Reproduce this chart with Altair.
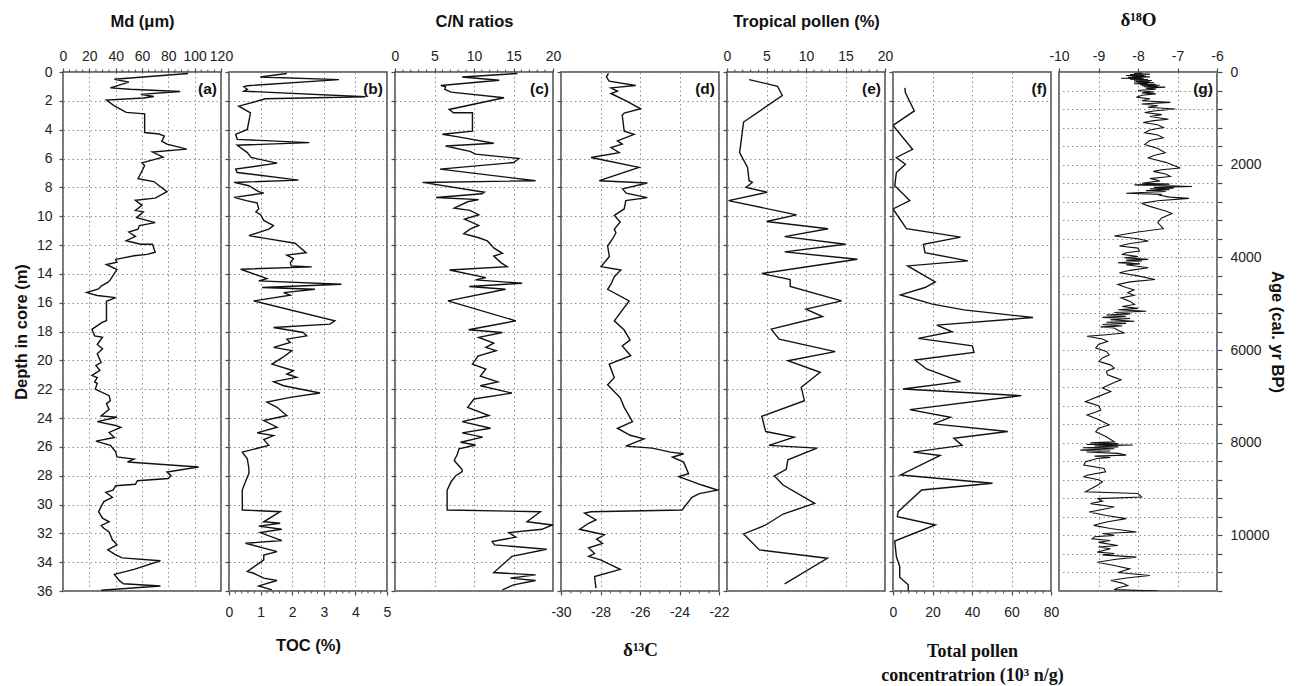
import altair as alt
import pandas as pd

# ---------------- data (depth in m, value) ----------------
md_pts = [(0.1, 95), (0.5, 39), (0.7, 50), (1.1, 36), (1.2, 51), (1.35, 89), (1.55, 59), (1.7, 69),
          (1.8, 61), (1.95, 33), (2.35, 39), (2.8, 48), (2.9, 62), (4.2, 62), (4.3, 73), (4.45, 77),
          (4.8, 75), (5.0, 79), (5.35, 94), (5.55, 68), (5.9, 76), (6.3, 60), (6.5, 62), (7.4, 57),
          (7.6, 69), (8.3, 79), (8.75, 70), (8.9, 55), (9.25, 60), (9.6, 55), (9.7, 61), (10.1, 56),
          (10.45, 70), (10.65, 58), (10.9, 57), (11.1, 50), (11.4, 55), (11.7, 48), (11.95, 59),
          (11.95, 68), (12.5, 70), (12.65, 64), (12.75, 54), (13.0, 40), (13.2, 41), (13.35, 33),
          (13.7, 41), (14.4, 36), (14.6, 34), (14.85, 29), (15.05, 27), (15.3, 18), (15.5, 26),
          (15.65, 40), (15.9, 33), (17.25, 33), (17.35, 30), (17.85, 22), (18.3, 24), (18.4, 30),
          (18.9, 26), (19.2, 30), (19.55, 26), (20.15, 29), (20.35, 25), (20.7, 28), (21.05, 22),
          (21.2, 26), (21.5, 24), (21.6, 26), (22.0, 24.5), (22.45, 35), (22.8, 36), (23.0, 33),
          (23.4, 35), (23.85, 29), (23.95, 41), (24.25, 26), (24.5, 39), (24.65, 44), (25.0, 35),
          (25.35, 39), (25.6, 25), (25.9, 36), (26.35, 40), (26.7, 41), (26.85, 54), (27.05, 49),
          (27.4, 103), (27.75, 79), (28.0, 82), (28.2, 80), (28.35, 56.5), (28.6, 55), (28.7, 40),
          (29.0, 38), (29.15, 32.5), (29.5, 37.5), (29.8, 31), (30.5, 27), (30.95, 30), (31.2, 35),
          (31.45, 29), (31.65, 31), (31.9, 35), (32.45, 37.5), (32.8, 41), (33.15, 34), (33.5, 40),
          (33.7, 45), (33.9, 74), (34.5, 54), (34.85, 39), (35.3, 43), (35.5, 46), (35.65, 74),
          (35.95, 29)]

toc_pts = [(0.1, 1.83), (0.35, 0.99), (0.53, 3.48), (0.95, 0.58), (1.03, 0.47), (1.2, 0.58),
           (1.33, 0.47), (1.72, 4.32), (1.86, 1.15), (2.37, 0.31), (2.83, 0.68), (3.98, 0.58),
           (4.32, 0.21), (4.67, 0.26), (4.9, 2.54), (5.08, 0.26), (5.59, 0.58), (5.93, 0.7),
           (6.32, 1.52), (6.74, 0.21), (6.97, 0.26), (7.5, 2.2), (7.66, 0.16), (7.89, 0.63),
           (8.3, 0.94), (8.4, 1.1), (8.7, 0.16), (8.92, 0.55), (9.08, 0.89), (9.5, 0.94),
           (9.7, 0.85), (9.9, 1.0), (10.3, 1.1), (10.65, 1.41), (10.9, 1.26), (11.35, 0.63),
           (11.56, 1.2), (11.88, 2.09), (12.53, 2.44), (12.7, 1.83), (12.95, 2.04), (13.22, 1.94),
           (13.45, 1.97), (13.52, 2.62), (13.68, 0.37), (14.33, 1.2), (14.49, 0.94), (14.72, 3.56),
           (14.95, 1.05), (15.07, 2.72), (15.3, 1.73), (15.48, 1.94), (15.88, 0.78), (17.26, 3.35),
           (17.49, 3.19), (17.72, 1.41), (18.07, 2.35), (18.3, 2.46), (18.53, 1.83), (18.76, 1.94),
           (19.1, 1.41), (19.33, 1.99), (19.8, 1.7), (20.26, 1.36), (20.72, 2.04), (20.95, 1.83),
           (21.18, 2.14), (21.48, 1.41), (21.76, 1.73), (22.27, 2.88), (22.57, 1.94), (22.9, 1.2),
           (23.26, 1.52), (23.83, 1.83), (24.18, 1.1), (24.64, 1.52), (25.03, 0.89), (25.22, 1.41),
           (25.5, 1.1), (25.9, 1.26), (26.1, 0.9), (26.37, 0.42), (26.83, 0.58), (27.5, 0.63),
           (27.84, 0.63), (28.42, 0.52), (29.0, 0.42), (30.38, 0.42), (30.5, 1.62), (31.2, 1.1),
           (31.3, 1.62), (31.5, 0.94), (31.72, 1.67), (31.95, 0.99), (32.5, 1.67), (32.69, 0.52),
           (33.27, 1.52), (33.5, 1.1), (33.84, 1.1), (34.65, 0.58), (34.77, 0.78), (35.11, 1.1),
           (35.27, 1.52), (35.65, 0.94), (35.92, 1.36)]

cn_pts = [(0.1, 15.5), (0.35, 8.5), (0.57, 13.2), (0.94, 5.8), (1.03, 6.4), (1.2, 6.3), (1.4, 7.1),
          (1.79, 13.8), (2.6, 6.85), (2.83, 7.4), (2.83, 9.8), (4.1, 9.8), (4.32, 6.0), (4.5, 8.0),
          (4.94, 12.5), (5.13, 6.4), (5.5, 9.5), (5.7, 10.2), (6.0, 15.7), (6.28, 15.0), (6.74, 5.7),
          (7.54, 17.8), (7.66, 3.5), (8.34, 11.3), (8.45, 11.0), (8.71, 5.2), (8.85, 10.6), (9.0, 9.2),
          (9.45, 7.5), (9.6, 9.5), (9.9, 10.6), (10.2, 8.8), (10.64, 10.6), (10.9, 9.5), (11.22, 8.7),
          (11.5, 10.6), (11.72, 11.7), (12.2, 12.5), (12.58, 13.6), (12.76, 12.5), (13.22, 13.4),
          (13.5, 14.2), (13.73, 6.9), (14.26, 11.5), (14.42, 10.2), (14.65, 16.1), (14.88, 9.4),
          (15.07, 14.0), (15.88, 6.7), (17.26, 15.3), (17.88, 9.3), (18.07, 13.6), (18.41, 10.6),
          (18.8, 12.5), (19.1, 11.5), (19.33, 12.8), (19.7, 10.5), (20.26, 9.8), (20.6, 11.5),
          (21.1, 10.8), (21.5, 13.0), (21.76, 10.8), (22.27, 14.8), (22.68, 10.0), (23.26, 9.2),
          (23.83, 11.9), (24.25, 8.5), (24.71, 12.1), (25.03, 8.5), (25.33, 11.1), (25.68, 8.3),
          (25.87, 10.2), (26.14, 8.1), (26.5, 7.9), (26.95, 7.5), (27.57, 8.5), (27.72, 8.5),
          (28.0, 7.7), (28.42, 7.1), (29.0, 6.6), (30.38, 6.6), (30.5, 18.4), (31.2, 16.7),
          (31.42, 19.9), (31.72, 18.6), (31.95, 14.4), (32.27, 15.3), (32.57, 12.3), (32.8, 12.6),
          (33.1, 19.2), (33.6, 14.8), (34.72, 12.5), (34.88, 17.8), (35.11, 14.6), (35.27, 17.8),
          (35.57, 15.0), (35.92, 13.6)]

d13c_pts = [(0.1, -27.6), (0.35, -27.7), (0.64, -27.56), (0.94, -26.22), (1.1, -27.47),
            (1.33, -27.14), (1.49, -27.47), (2.0, -26.7), (2.55, -25.97), (2.85, -26.8),
            (3.0, -26.9), (4.1, -26.8), (4.32, -26.3), (4.78, -27.14), (5.0, -26.9), (5.24, -27.47),
            (5.6, -27.05), (5.93, -28.48), (6.62, -26.05), (7.54, -28.06), (7.7, -25.63),
            (8.11, -26.88), (8.4, -26.7), (8.71, -25.63), (8.92, -26.72), (9.5, -26.8),
            (9.95, -27.3), (10.4, -27.0), (10.9, -27.3), (11.15, -27.22), (11.6, -27.4),
            (12.07, -27.64), (12.8, -27.55), (13.5, -27.97), (13.73, -26.97), (14.2, -27.3),
            (14.72, -27.47), (15.07, -27.64), (15.88, -26.55), (17.26, -27.3), (17.9, -26.8),
            (18.6, -26.5), (19.0, -26.9), (19.68, -26.47), (20.26, -27.56), (21.2, -27.3),
            (21.7, -27.64), (22.6, -27.0), (23.26, -26.8), (24.25, -26.38), (24.71, -27.14),
            (25.2, -26.5), (25.45, -25.8), (25.95, -26.72), (26.09, -25.38), (26.37, -24.46),
            (26.48, -23.79), (26.72, -24.36), (27.06, -23.79), (27.87, -23.54), (28.07, -24.04),
            (28.65, -22.87), (29.0, -22.08), (29.25, -23.0), (29.5, -23.37), (30.38, -23.87),
            (30.5, -28.48), (30.6, -28.81), (31.07, -28.23), (31.3, -28.6), (31.72, -29.06),
            (32.1, -27.8), (32.4, -28.2), (32.7, -27.9), (33.0, -28.6), (33.4, -28.3),
            (33.6, -28.6), (33.84, -28.0), (34.5, -27.0), (35.0, -28.3), (35.8, -28.23)]

trop_pts = [(0.53, 2.8), (0.99, 6.4), (1.63, 7.0), (3.47, 2.1), (5.59, 1.6), (6.62, 2.6), (7.54, 2.8),
            (7.66, 3.2), (8.0, 2.4), (8.34, 5.1), (8.92, 0.2), (9.91, 8.8), (10.37, 5.0), (10.87, 12.8),
            (11.42, 7.3), (11.95, 15.0), (12.48, 7.3), (12.99, 16.5), (13.98, 4.4), (14.4, 8.0),
            (14.88, 8.0), (15.88, 14.5), (16.45, 10.0), (16.96, 12.1), (17.84, 5.6), (18.53, 6.6),
            (19.4, 13.7), (20.03, 7.7), (20.83, 11.8), (21.87, 9.4), (22.8, 9.8), (23.88, 4.4),
            (24.94, 4.9), (25.33, 8.5), (25.9, 5.3), (26.09, 11.4), (26.9, 7.7), (27.56, 7.5),
            (28.02, 6.0), (28.65, 7.1), (29.92, 11.1), (30.66, 7.1), (31.42, 4.9), (32.04, 2.1),
            (33.15, 4.1), (33.73, 12.7), (35.5, 7.3)]

pollen_pts = [(1.1, 6.0), (1.45, 6.3), (2.7, 10.8), (3.7, 0.0), (5.36, 9.9), (5.93, 1.7), (6.4, 6.3),
              (6.97, 1.7), (7.89, 0.9), (8.92, 8.5), (9.5, 0.0), (10.87, 6.8), (11.45, 34.2),
              (11.95, 15.4), (12.53, 16.2), (13.1, 37.9), (13.45, 7.4), (14.56, 21.4), (14.95, 16.2),
              (15.46, 3.8), (16.1, 20.0), (16.5, 35.9), (17.03, 70.9), (17.56, 22.2), (18.02, 29.9),
              (18.48, 12.8), (18.99, 40.2), (19.45, 41.0), (19.98, 11.1), (20.6, 17.0), (21.48, 34.2),
              (21.99, 5.1), (22.45, 65.0), (23.42, 8.5), (23.95, 29.1), (24.41, 20.5), (24.94, 58.1),
              (25.4, 30.8), (25.9, 35.0), (26.37, 10.3), (26.6, 23.9), (27.95, 3.8), (28.53, 50.4),
              (28.99, 14.5), (30.5, 2.6), (30.84, 2.2), (31.42, 21.4), (32.53, 0.9), (33.61, 1.7),
              (34.3, 3.4), (35.04, 3.4), (35.57, 7.7), (35.99, 7.7)]

# (age in cal. yr BP, d18O)
d18o_pts = [(20, -7.9), (35, -8.1), (45, -7.7), (55, -8.2), (65, -7.85), (75, -8.3), (85, -7.8),
            (95, -8.15), (105, -7.7), (115, -8.25), (125, -7.9), (135, -8.43), (145, -7.85), (155, -8.2),
            (165, -7.75), (175, -8.1), (185, -7.65), (195, -8.05), (205, -7.7), (215, -8.1), (225, -7.6),
            (235, -8.0), (245, -7.75), (255, -8.1), (265, -7.55), (275, -7.95), (285, -7.45), (295, -7.9),
            (305, -7.5), (315, -7.85), (327, -7.31), (350, -7.8), (370, -7.55), (400, -8.0), (430, -7.6),
            (450, -7.9), (473, -7.55), (500, -7.9), (545, -8.04), (580, -7.7), (620, -7.9), (655, -7.18),
            (690, -7.91), (730, -7.5), (760, -7.75), (800, -7.06), (840, -7.6), (873, -7.83), (920, -7.4),
            (960, -7.7), (1018, -7.23), (1050, -7.6), (1090, -7.87), (1140, -7.5), (1200, -7.36),
            (1250, -7.7), (1309, -7.83), (1360, -7.5), (1418, -7.36), (1480, -7.7), (1563, -7.83),
            (1650, -7.5), (1745, -7.31), (1800, -7.6), (1854, -7.74), (1950, -7.3), (2072, -6.93),
            (2110, -7.4), (2145, -7.61), (2200, -7.3), (2254, -7.18), (2300, -7.7), (2350, -7.45),
            (2400, -7.9), (2420, -7.2), (2436, -8.09), (2455, -7.3), (2472, -6.63), (2490, -7.6),
            (2505, -7.1), (2520, -7.7), (2540, -7.2), (2560, -7.8), (2580, -7.3), (2600, -7.9),
            (2618, -8.3), (2640, -7.4), (2654, -7.48), (2700, -7.2), (2727, -6.71), (2780, -7.5),
            (2836, -7.91), (2900, -7.7), (3000, -7.3), (3054, -7.14), (3150, -7.4), (3250, -7.5),
            (3381, -7.36), (3454, -8.0), (3538, -8.6), (3600, -8.0), (3646, -7.74), (3700, -8.2),
            (3755, -8.47), (3800, -8.0), (3863, -7.96), (3900, -8.3), (3935, -8.39), (3980, -8.0),
            (4010, -8.35), (4043, -7.74), (4060, -8.3), (4080, -7.9), (4115, -8.51), (4140, -7.95),
            (4160, -8.3), (4224, -7.74), (4280, -8.2), (4332, -8.47), (4400, -8.0), (4477, -7.57),
            (4530, -8.2), (4585, -8.51), (4650, -8.3), (4700, -8.1), (4765, -8.26), (4820, -8.1),
            (4874, -8.43), (4950, -8.2), (5018, -8.09), (5060, -8.4), (5100, -8.0), (5130, -8.5),
            (5162, -7.79), (5190, -8.6), (5220, -8.2), (5245, -8.8), (5271, -8.3), (5295, -8.9),
            (5320, -8.2), (5345, -8.7), (5379, -8.09), (5400, -8.8), (5425, -8.3), (5450, -8.9),
            (5480, -8.4), (5500, -8.95), (5523, -8.6), (5580, -8.5), (5632, -8.34), (5670, -8.8),
            (5704, -9.29), (5760, -8.9), (5812, -8.77), (5880, -9.0), (5957, -9.07), (6030, -8.8),
            (6101, -8.73), (6170, -8.9), (6245, -8.99), (6320, -8.7), (6390, -8.6), (6460, -8.8),
            (6534, -8.77), (6590, -8.6), (6642, -8.43), (6700, -8.6), (6751, -8.73), (6820, -8.9),
            (6895, -8.69), (7000, -9.0), (7112, -9.33), (7200, -9.0), (7292, -8.94), (7350, -9.1),
            (7401, -9.29), (7500, -9.0), (7617, -8.73), (7690, -9.0), (7762, -9.07), (7870, -8.8),
            (7978, -8.6), (8000, -9.2), (8020, -8.5), (8040, -9.3), (8050, -8.13), (8070, -9.1),
            (8090, -8.5), (8110, -9.4), (8130, -8.6), (8159, -9.46), (8180, -8.7), (8200, -9.3),
            (8230, -8.5), (8267, -8.3), (8290, -9.1), (8320, -8.7), (8339, -9.03), (8411, -9.33),
            (8484, -9.37), (8556, -8.86), (8628, -8.82), (8700, -9.29), (8737, -9.37), (8800, -9.0),
            (8845, -8.9), (8917, -9.03), (9000, -9.2), (9061, -9.33), (9097, -8.0), (9170, -7.91),
            (9206, -9.03), (9260, -8.9), (9314, -9.2), (9386, -8.6), (9440, -8.9), (9495, -9.24),
            (9570, -8.8), (9639, -8.3), (9710, -8.8), (9783, -9.12), (9850, -8.7), (9928, -8.04),
            (9960, -8.9), (10000, -8.6), (10030, -9.1), (10072, -9.16), (10110, -8.7), (10150, -9.0),
            (10217, -8.51), (10250, -9.0), (10290, -8.7), (10361, -9.03), (10390, -8.6), (10420, -8.9),
            (10469, -8.04), (10520, -8.6), (10578, -9.03), (10650, -8.6), (10722, -8.21), (10800, -8.5),
            (10866, -7.7), (10920, -8.3), (10975, -8.69), (11030, -8.4), (11083, -8.26), (11130, -8.5),
            (11170, -8.6), (11200, -7.48)]

depth_ticks = list(range(0, 37, 2))
age_ticks = list(range(0, 11201, 400))

panel_labels = ["(a)", "(b)", "(c)", "(d)", "(e)", "(f)", "(g)"]
x_titles = ["Md (\u03bcm)", "TOC (%)", "C/N ratios", "\u03b4\u00b9\u00b3C", "Tropical pollen (%)",
            ["Total pollen", "concentratrion (10\u00b3 n/g)"], "\u03b4\u00b9\u2078O"]
x_domains = [(0, 120), (0, 5), (0, 20), (-30, -22), (0, 20), (0, 80), (-10, -6)]
x_majors = [list(range(0, 121, 20)), [0, 1, 2, 3, 4, 5], [0, 5, 10, 15, 20], [-30, -28, -26, -24, -22],
            [0, 5, 10, 15, 20], [0, 20, 40, 60, 80], [-10, -9, -8, -7, -6]]
x_minors = [[v for v in range(0, 121, 5) if v % 20],
            [round(v * 0.2, 1) for v in range(0, 26) if v % 5],
            [v for v in range(0, 21) if v % 5],
            [-30 + 0.5 * k for k in range(17) if k % 4],
            [v for v in range(0, 21) if v % 5],
            [v for v in range(0, 81, 4) if v % 20],
            []]
orients = ["top", "bottom", "top", "bottom", "top", "bottom", "top"]

# ---------------- styling ----------------
W, H = 158, 519
SANS = "Liberation Sans"
SERIF = "Liberation Serif"
AXC = "#4a4a4a"


def make_panel(k, pts, yaxis, ydomain, line_w=1.4):
    df = pd.DataFrame({"y": [p[0] for p in pts], "x": [p[1] for p in pts]})
    df["i"] = range(len(df))
    orient = orients[k]
    xscale = alt.Scale(domain=list(x_domains[k]), nice=False, zero=False)
    if k in (3, 6):
        title_kw = dict(titleFont=SERIF, titleFontSize=19)
    elif k == 5:
        title_kw = dict(titleFont=SERIF, titleFontSize=18, titleLineHeight=24)
    else:
        title_kw = dict(titleFont=SANS, titleFontSize=16.5)
    if orient == "top":
        tpad = 20
    else:
        tpad = {1: 18, 3: 21, 5: 23}[k]
    xaxis = alt.Axis(orient=orient, values=x_majors[k], grid=True, tickSize=4,
                     labelFlush=False, labelOverlap=False,
                     labelPadding=5 if orient == "top" else 10,
                     labelExpr="toString(datum.value)",
                     title=x_titles[k], titlePadding=tpad, **title_kw)
    yscale = alt.Scale(domain=list(ydomain), reverse=True, nice=False, zero=False)
    line = alt.Chart(df).mark_line(color="#111111", strokeWidth=line_w, clip=True).encode(
        x=alt.X("x:Q", scale=xscale, axis=xaxis),
        y=alt.Y("y:Q", scale=yscale, axis=yaxis),
        order=alt.Order("i:Q"),
    )
    layers = [line]
    if x_minors[k]:
        mdf = pd.DataFrame({"x": x_minors[k]})
        y0, y1 = (-2.5, 0) if orient == "top" else (H, H + 2.5)
        ticks = alt.Chart(mdf).mark_rule(color=AXC, strokeWidth=1).encode(
            x=alt.X("x:Q", scale=xscale, axis=xaxis),
            y=alt.value(y0), y2=alt.value(y1))
        layers.append(ticks)
    lab = alt.Chart(pd.DataFrame({"t": [panel_labels[k]]})).mark_text(
        align="right", baseline="middle", font=SANS, fontSize=15.5, fontWeight="bold",
        color="#111111").encode(x=alt.value(W - 4), y=alt.value(17), text="t:N")
    layers.append(lab)
    return alt.layer(*layers).properties(width=W, height=H)


left_axis = alt.Axis(orient="left", values=depth_ticks, grid=True, tickSize=4, labelPadding=7,
                     labelExpr="toString(datum.value)", title="Depth in core (m)", titlePadding=7)
mid_axis = alt.Axis(orient="left", values=depth_ticks, grid=True, tickSize=4, labels=False, title=None)
age_axis = alt.Axis(orient="right", values=age_ticks, grid=True, tickSize=5, labelPadding=8,
                    labelExpr="datum.value % 2000 === 0 ? toString(datum.value) : ''",
                    title="Age (cal. yr BP)", titlePadding=0)

series = [md_pts, toc_pts, cn_pts, d13c_pts, trop_pts, pollen_pts]
panels = []
for k, pts in enumerate(series):
    panels.append(make_panel(k, pts, left_axis if k == 0 else mid_axis, (0, 36)))
panels.append(make_panel(6, d18o_pts, age_axis, (0, 11200), line_w=1.1))

chart = alt.hconcat(*panels, spacing=8, bounds="flush").properties(
    padding={"left": 12, "top": 9, "right": 5, "bottom": 0},
    background="white",
).configure_view(stroke=AXC, strokeWidth=1.5).configure_axis(
    domain=False, labelFont=SANS, labelFontSize=14, labelColor="#222222",
    titleFont=SANS, titleFontSize=16.5, titleFontWeight="bold", titleColor="#111111",
    tickColor=AXC, tickWidth=1.2, gridColor="#8c8c8c", gridDash=[1.5, 3], gridWidth=1,
)

chart.save("out.html", embed_options={"renderer": "svg", "actions": False})
